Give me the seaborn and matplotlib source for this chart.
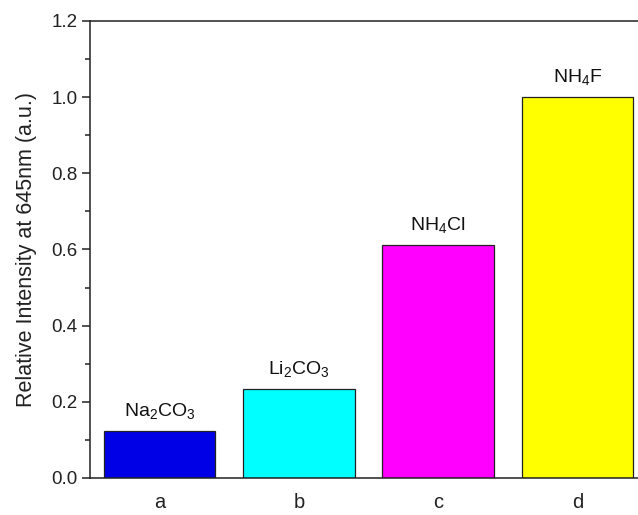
import matplotlib
matplotlib.use("Agg")
import matplotlib.pyplot as plt
from matplotlib.ticker import MultipleLocator
import seaborn as sns
import pandas as pd

# Samples and their relative emission intensity at 645 nm
categories = ["a", "b", "c", "d"]
compounds = [r"Na$_2$CO$_3$", r"Li$_2$CO$_3$", r"NH$_4$Cl", r"NH$_4$F"]
intensity = [0.124, 0.233, 0.612, 1.0]
bar_colors = ["#0000e6", "#00ffff", "#ff00ff", "#ffff00"]
y_ticks = [0.0, 0.2, 0.4, 0.6, 0.8, 1.0, 1.2]

sns.set_style("ticks")
plt.rcParams["font.family"] = ["Liberation Sans", "DejaVu Sans"]
plt.rcParams["mathtext.fontset"] = "custom"
plt.rcParams["mathtext.rm"] = "Liberation Sans"
plt.rcParams["mathtext.it"] = "Liberation Sans"
plt.rcParams["mathtext.default"] = "regular"

df = pd.DataFrame({"sample": categories, "intensity": intensity})

fig = plt.figure(figsize=(6.38, 5.15), dpi=100)
ax = fig.add_axes([90 / 638, 37 / 515, 557 / 638, 457 / 515])

sns.barplot(data=df, x="sample", y="intensity", hue="sample",
            palette=bar_colors, width=0.8, edgecolor="#222222",
            linewidth=0.9, legend=False, ax=ax, saturation=1)

for i, (val, name) in enumerate(zip(intensity, compounds)):
    ax.text(i, val + 0.026, name, ha="center", va="bottom",
            fontsize=14, color="#111111")

ax.set_xlim(-0.5, 3.5)
ax.set_ylim(0, 1.2)
ax.set_yticks(y_ticks)
ax.set_yticklabels([f"{t:.1f}" for t in y_ticks])
ax.yaxis.set_minor_locator(MultipleLocator(0.1))
ax.set_xlabel("")
ax.set_ylabel("Relative Intensity at 645nm (a.u.)", fontsize=15.5,
              color="#222222", labelpad=10)

for side in ["left", "bottom", "top", "right"]:
    ax.spines[side].set_visible(True)
    ax.spines[side].set_linewidth(1.1)
    ax.spines[side].set_color("#222222")

ax.tick_params(axis="y", which="major", direction="out", length=6,
               width=1.1, labelsize=13.5, colors="#222222", pad=3)
ax.tick_params(axis="y", which="minor", direction="out", length=3.5,
               width=1.1, colors="#222222")
ax.tick_params(axis="x", which="both", length=0, labelsize=14.5,
               colors="#222222", pad=11)

fig.savefig("out.png", dpi=100)
